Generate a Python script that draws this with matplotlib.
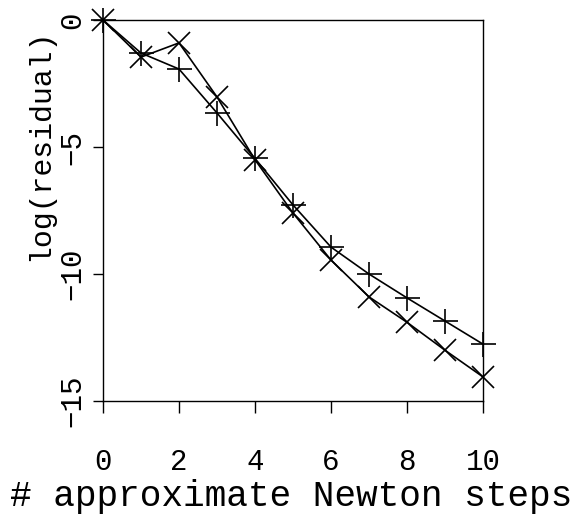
import matplotlib
matplotlib.use("Agg")
import matplotlib.pyplot as plt

# data
steps = [0, 1, 2, 3, 4, 5, 6, 7, 8, 9, 10]
res_plus = [0, -1.3, -1.93, -3.66, -5.45, -7.28, -8.94, -10.0, -10.94, -11.85, -12.76]
res_cross = [0, -1.46, -0.9, -3.03, -5.5, -7.6, -9.45, -10.9, -11.9, -13.0, -14.05]

xticks = [0, 2, 4, 6, 8, 10]
yticks = [0, -5, -10, -15]

font = "Liberation Mono"

fig = plt.figure(figsize=(5.81, 5.2), dpi=100)
ax = fig.add_axes([0.1773, 0.2288, 0.654, 0.7327])

ax.plot(steps, res_plus, color="black", lw=1.2, marker="+", ms=18, mew=1.2, clip_on=False)
ax.plot(steps, res_cross, color="black", lw=1.2, marker="x", ms=16, mew=1.2, clip_on=False)

ax.set_xlim(0, 10)
ax.set_ylim(-15, 0)
ax.set_xticks(xticks)
ax.set_yticks(yticks)
ax.set_xticklabels([str(v) for v in xticks], fontfamily=font, fontsize=21)
ax.set_yticklabels([str(v).replace("-", "\u2212") for v in yticks], fontfamily=font,
                   fontsize=21, rotation=90, va="center")

ax.tick_params(axis="x", direction="out", length=8.6, width=1.0, pad=25)
ax.tick_params(axis="y", direction="out", length=7, width=1.0, pad=5)
for s in ax.spines.values():
    s.set_linewidth(1.0)

ax.set_xlabel("# approximate Newton steps", fontfamily=font, fontsize=26, va="baseline")
ax.xaxis.set_label_coords(0.495, -0.276)
ax.set_ylabel("log(residual)", fontfamily=font, fontsize=21.5, va="center")
ax.yaxis.set_label_coords(-0.166, 0.672)

fig.savefig("out.png", dpi=100)
